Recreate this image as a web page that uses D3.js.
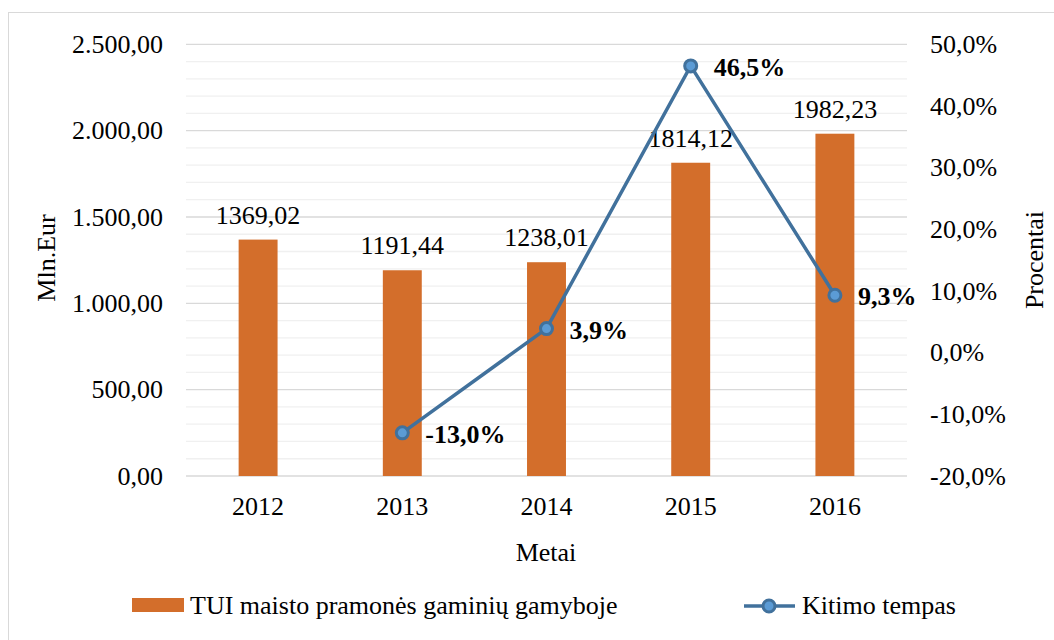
<!DOCTYPE html>
<meta charset='utf-8'>
<body style='margin:0;background:#fff'>
<script src='https://d3js.org/d3.v7.min.js'></script>
<script>
  const years = ['2012', '2013', '2014', '2015', '2016'];
  const tui = [1369.02, 1191.44, 1238.01, 1814.12, 1982.23];
  const growth = [null, -13.0, 3.9, 46.5, 9.3];
  const leftTicks = [0, 500, 1000, 1500, 2000, 2500];
  const rightTicks = [-20, -10, 0, 10, 20, 30, 40, 50];
  const barName = 'TUI maisto pramonės gaminių gamyboje';
  const lineName = 'Kitimo tempas';

  const W = 1054, H = 640;
  const margin = { top: 44.3, right: 147, bottom: 164, left: 186 };
  const width = W - margin.left - margin.right;
  const height = H - margin.top - margin.bottom;

  const barColor = '#d36e2b';
  const lineColor = '#41719c';
  const dotFill = '#5b9bd5';
  const font = '"Liberation Serif", Tinos, "DejaVu Serif", "Noto Serif", serif';

  const fmtNum = d3.formatLocale({ decimal: ',', thousands: '.', grouping: [3] }).format(',.2f');
  const fmtPct = d => d.toFixed(1).replace('.', ',') + '%';

  const svg = d3.select('body').append('svg')
    .attr('width', W)
    .attr('height', H)
    .attr('font-family', font);

  // outer frame
  svg.append('rect')
    .attr('x', 8.5).attr('y', 12.5)
    .attr('width', W).attr('height', H)
    .attr('fill', 'none')
    .attr('stroke', '#d9d9d9');

  const g = svg.append('g')
    .attr('transform', `translate(${margin.left},${margin.top})`);

  const x = d3.scaleBand().domain(years).range([0, width]);
  const y = d3.scaleLinear().domain([0, 2500]).range([height, 0]);
  const y2 = d3.scaleLinear().domain([-20, 50]).range([height, 0]);

  // gridlines: minor every 100, major every 500
  g.append('g')
    .selectAll('line')
    .data(d3.range(0, 2501, 100))
    .join('line')
      .attr('x1', 0).attr('x2', width)
      .attr('y1', d => y(d)).attr('y2', d => y(d))
      .attr('stroke', d => d % 500 === 0 ? '#d9d9d9' : '#f0f0f0')
      .attr('stroke-width', 1.3);

  function styleAxis(a) {
    a.select('.domain').remove();
    a.attr('font-family', font).attr('font-size', 26);
    a.selectAll('text').attr('fill', '#000');
  }

  // left axis
  g.append('g')
    .call(d3.axisLeft(y).tickValues(leftTicks).tickFormat(fmtNum).tickSize(0).tickPadding(23))
    .call(styleAxis);

  // right axis
  g.append('g')
    .attr('transform', `translate(${width},0)`)
    .call(d3.axisRight(y2).tickValues(rightTicks).tickFormat(fmtPct).tickSize(0).tickPadding(23))
    .call(styleAxis);

  // x axis
  g.append('g')
    .attr('transform', `translate(0,${height})`)
    .call(d3.axisBottom(x).tickSize(0).tickPadding(21))
    .call(styleAxis);

  // bars
  const bw = x.bandwidth() * 0.27;
  g.selectAll('.bar')
    .data(tui)
    .join('rect')
      .attr('class', 'bar')
      .attr('x', (d, i) => x(years[i]) + (x.bandwidth() - bw) / 2)
      .attr('y', d => y(d))
      .attr('width', bw)
      .attr('height', d => height - y(d))
      .attr('fill', barColor);

  g.selectAll('.barlabel')
    .data(tui)
    .join('text')
      .attr('class', 'barlabel')
      .attr('x', (d, i) => x(years[i]) + x.bandwidth() / 2)
      .attr('y', d => y(d) - 16)
      .attr('text-anchor', 'middle')
      .attr('font-size', 26)
      .text(d => d.toFixed(2).replace('.', ','));

  // line
  const pts = growth.map((v, i) => ({ year: years[i], v })).filter(d => d.v !== null);
  const cx = d => x(d.year) + x.bandwidth() / 2;

  g.append('path')
    .datum(pts)
    .attr('d', d3.line().x(cx).y(d => y2(d.v)))
    .attr('fill', 'none')
    .attr('stroke', lineColor)
    .attr('stroke-width', 3.5);

  g.selectAll('.dot')
    .data(pts)
    .join('circle')
      .attr('class', 'dot')
      .attr('cx', cx)
      .attr('cy', d => y2(d.v))
      .attr('r', 6)
      .attr('fill', dotFill)
      .attr('stroke', lineColor)
      .attr('stroke-width', 3);

  g.selectAll('.pctlabel')
    .data(pts)
    .join('text')
      .attr('class', 'pctlabel')
      .attr('x', d => cx(d) + 23)
      .attr('y', d => y2(d.v) + 10)
      .attr('font-size', 26)
      .attr('font-weight', 'bold')
      .text(d => fmtPct(d.v));

  // axis titles
  svg.append('text')
    .attr('transform', `translate(55,258) rotate(-90)`)
    .attr('text-anchor', 'middle')
    .attr('font-size', 26)
    .text('Mln.Eur');

  svg.append('text')
    .attr('transform', `translate(1043,260) rotate(-90)`)
    .attr('text-anchor', 'middle')
    .attr('font-size', 26)
    .text('Procentai');

  svg.append('text')
    .attr('x', 546).attr('y', 561)
    .attr('text-anchor', 'middle')
    .attr('font-size', 26)
    .text('Metai');

  // legend
  const lg = svg.append('g');
  lg.append('rect')
    .attr('x', 132).attr('y', 598)
    .attr('width', 52).attr('height', 14)
    .attr('fill', barColor);
  lg.append('text')
    .attr('x', 190).attr('y', 614)
    .attr('font-size', 26)
    .text(barName);
  lg.append('line')
    .attr('x1', 744).attr('x2', 795)
    .attr('y1', 606).attr('y2', 606)
    .attr('stroke', lineColor)
    .attr('stroke-width', 3.5);
  lg.append('circle')
    .attr('cx', 769).attr('cy', 606).attr('r', 6)
    .attr('fill', dotFill)
    .attr('stroke', lineColor)
    .attr('stroke-width', 3);
  lg.append('text')
    .attr('x', 802).attr('y', 614)
    .attr('font-size', 26)
    .text(lineName);
</script>
